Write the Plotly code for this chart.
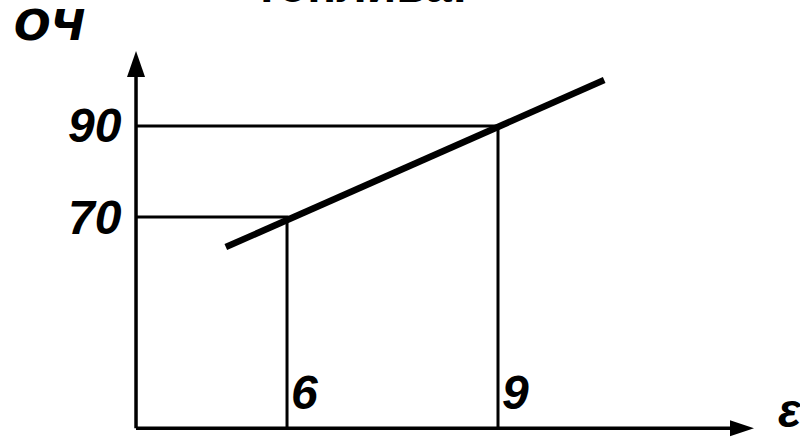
import plotly.graph_objects as go

# ---- data ----
eps_ticks = [6, 9]            # compression ratio marks
oc_ticks = [70, 90]           # octane number marks
line_eps = [5.13, 10.51]      # dependence line (x)
line_oc = [63.4, 100.1]       # dependence line (y)
eps_labels = ["6", "9"]
oc_labels = ["70", "90"]

# axis geometry (schematic origin and arrow tips)
EPS0, OC0 = 3.853, 23.6
EPS_TIP, OC_TIP = 12.64, 106.5

W, H = 800, 437
X_RANGE = [1.919, 13.294]
Y_RANGE = [21.65, 117.69]

fig = go.Figure()

# axes lines
fig.add_trace(go.Scatter(x=[EPS0, EPS0], y=[OC0, OC_TIP - 5], mode="lines",
                         line=dict(color="black", width=3.5), hoverinfo="skip"))
fig.add_trace(go.Scatter(x=[EPS0, EPS_TIP - 0.3], y=[OC0, OC0], mode="lines",
                         line=dict(color="black", width=3.5), hoverinfo="skip"))

# reference lines
for e, o in zip(eps_ticks, oc_ticks):
    fig.add_trace(go.Scatter(x=[EPS0, e, e], y=[o, o, OC0], mode="lines",
                             line=dict(color="black", width=3), hoverinfo="skip"))

# main dependence line
fig.add_trace(go.Scatter(x=line_eps, y=line_oc, mode="lines",
                         line=dict(color="black", width=6.5), hoverinfo="skip"))

# arrowheads
fig.add_shape(type="path", xref="x", yref="y", xsizemode="pixel", ysizemode="pixel",
              xanchor=EPS0, yanchor=OC_TIP, path="M0,0 L-9,-26 L9,-26 Z",
              fillcolor="black", line=dict(color="black", width=0))
fig.add_shape(type="path", xref="x", yref="y", xsizemode="pixel", ysizemode="pixel",
              xanchor=EPS_TIP, yanchor=OC0, path="M0,0 L-24,8 L-24,-8 Z",
              fillcolor="black", line=dict(color="black", width=0))

lab_font = dict(family="Liberation Sans, Arial", size=48, color="black")


def px(xp):
    return xp / W


def py(yp):
    return 1 - yp / H


anns = []
for lab, o in zip(oc_labels, oc_ticks):
    anns.append(dict(x=px(124), xref="paper", y=o, yref="y", text=f"<b><i>{lab}</i></b>",
                     showarrow=False, xanchor="right", yanchor="middle", font=lab_font))
for lab, e in zip(eps_labels, eps_ticks):
    anns.append(dict(x=e, xref="x", y=py(392), yref="paper", text=f"<b><i>{lab}</i></b>",
                     showarrow=False, xanchor="left", xshift=2, yanchor="middle", font=lab_font))

anns.append(dict(x=px(12), xref="paper", y=py(25), yref="paper", text="<b><i>ОЧ</i></b>",
                 showarrow=False, xanchor="left", yanchor="middle",
                 font=dict(family="DejaVu Sans", size=43, color="black")))
anns.append(dict(x=px(776), xref="paper", y=py(410), yref="paper", text="<b><i>ε</i></b>",
                 showarrow=False, xanchor="left", yanchor="middle", font=lab_font))
anns.append(dict(x=px(361), xref="paper", y=py(-15), yref="paper", text="<b>топлива:</b>",
                 showarrow=False, xanchor="center", yanchor="middle", font=lab_font))

fig.update_layout(
    width=W, height=H,
    margin=dict(l=0, r=0, t=0, b=0),
    paper_bgcolor="white", plot_bgcolor="white",
    showlegend=False,
    xaxis=dict(range=X_RANGE, visible=False, fixedrange=True),
    yaxis=dict(range=Y_RANGE, visible=False, fixedrange=True),
    annotations=anns,
)

fig.write_html("out.html", config={"displayModeBar": False},
               post_script="document.body.style.margin='0';document.body.style.overflow='hidden';")
